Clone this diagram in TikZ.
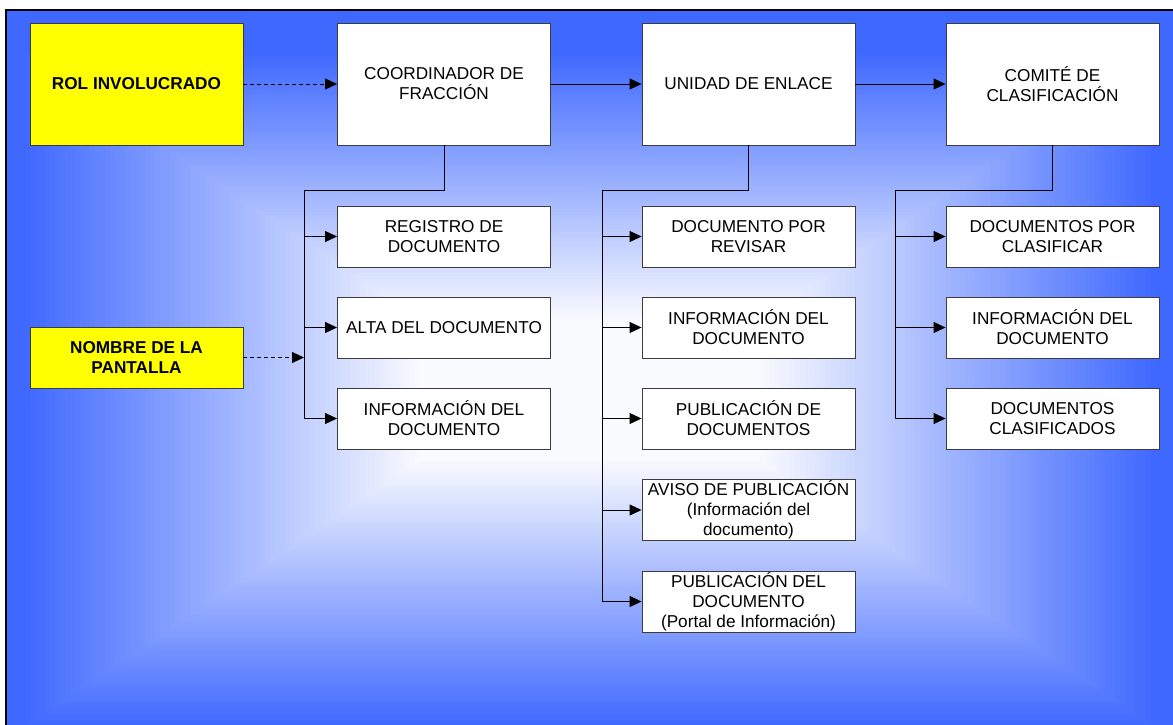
\documentclass[tikz,border=0pt]{standalone}
\usepackage{fontspec}
\setmainfont{Liberation Sans}
\usetikzlibrary{arrows.meta}
\definecolor{bgblue}{RGB}{62,104,255}
\definecolor{bgcore}{RGB}{250,251,255}
\definecolor{boxyellow}{RGB}{255,255,0}
\definecolor{boxline}{RGB}{60,60,60}
\begin{document}
\begin{tikzpicture}[x=1pt,y=-1pt,
  wbox/.style={draw=boxline, fill=white, line width=0.9pt, minimum width=213pt, minimum height=61pt, inner sep=0pt, align=center, font=\fontsize{17.2}{20}\selectfont},
  bigbox/.style={wbox, minimum height=122pt},
  ybox/.style={wbox, fill=boxyellow, font=\fontsize{17.2}{20}\selectfont\bfseries},
  conn/.style={draw=black, line width=0.9pt},
  arr/.style={conn, -{Triangle[length=12pt,width=11pt]}},
  darr/.style={arr, dash pattern=on 4pt off 3pt}]
\useasboundingbox (0,0) rectangle (1173,725);
\fill[white] (0,0) rectangle (1173,725);
\begin{scope}
  \clip (6,10) rectangle (1173,725);
  \fill[bgblue] (6,10) rectangle (1173,725);
  % rectangular path gradient: nested rectangles from blue (outside) to near white (centre)
  \foreach \i in {0,...,80} {
    \pgfmathsetmacro{\u}{1-\i/80}
    \pgfmathsetmacro{\hw}{170+400*\u}
    \pgfmathsetmacro{\hh}{70+270*\u}
    \pgfmathsetmacro{\pct}{100*\u}
    \fill[bgblue!\pct!bgcore] (590-\hw,390-\hh) rectangle (590+\hw,390+\hh);
  }
\end{scope}
\draw[line width=2pt] (6,725) -- (6,10) -- (1173,10);

% top row
\node[ybox, minimum height=122pt] (rol) at (136.5,84) {ROL INVOLUCRADO};
\node[bigbox] (coord) at (444,84) {COORDINADOR DE\\FRACCIÓN};
\node[bigbox] (unidad) at (748.5,84) {UNIDAD DE ENLACE};
\node[bigbox] (comite) at (1052.5,84) {COMITÉ DE\\CLASIFICACIÓN};

% left column
\node[wbox] (a1) at (444,236.5) {REGISTRO DE\\DOCUMENTO};
\node[wbox] (a2) at (444,327.5) {ALTA DEL DOCUMENTO};
\node[wbox] (a3) at (444,418.5) {INFORMACIÓN DEL\\DOCUMENTO};
\node[ybox] (nombre) at (136.5,357.5) {NOMBRE DE LA\\PANTALLA};

% middle column
\node[wbox] (b1) at (748.5,236.5) {DOCUMENTO POR\\REVISAR};
\node[wbox] (b2) at (748.5,327.5) {INFORMACIÓN DEL\\DOCUMENTO};
\node[wbox] (b3) at (748.5,418.5) {PUBLICACIÓN DE\\DOCUMENTOS};
\node[wbox] (b4) at (748.5,510) {AVISO DE PUBLICACIÓN\\(Información del\\documento)};
\node[wbox] (b5) at (748.5,601.5) {PUBLICACIÓN DEL\\DOCUMENTO\\(Portal de Información)};

% right column
\node[wbox] (c1) at (1052.5,236.5) {DOCUMENTOS POR\\CLASIFICAR};
\node[wbox] (c2) at (1052.5,327.5) {INFORMACIÓN DEL\\DOCUMENTO};
\node[wbox] (c3) at (1052.5,418.5) {DOCUMENTOS\\CLASIFICADOS};

% top connectors
\draw[darr] (rol.east) -- (coord.west);
\draw[arr] (coord.east) -- (unidad.west);
\draw[arr] (unidad.east) -- (comite.west);

% buses
\coordinate (ja) at (304,190.5);
\coordinate (jb) at (602,190.5);
\coordinate (jc) at (895,190.5);

\draw[conn] (coord.south) -- (coord.south |- ja) -- (ja) -- (ja |- a3.west);
\foreach \n in {a1,a2,a3} \draw[arr] (ja |- \n.west) -- (\n.west);
\draw[darr] (nombre.east) -- (nombre.east -| ja);

\draw[conn] (unidad.south) -- (unidad.south |- jb) -- (jb) -- (jb |- b5.west);
\foreach \n in {b1,b2,b3,b4,b5} \draw[arr] (jb |- \n.west) -- (\n.west);

\draw[conn] (comite.south) -- (comite.south |- jc) -- (jc) -- (jc |- c3.west);
\foreach \n in {c1,c2,c3} \draw[arr] (jc |- \n.west) -- (\n.west);
\end{tikzpicture}
\end{document}
